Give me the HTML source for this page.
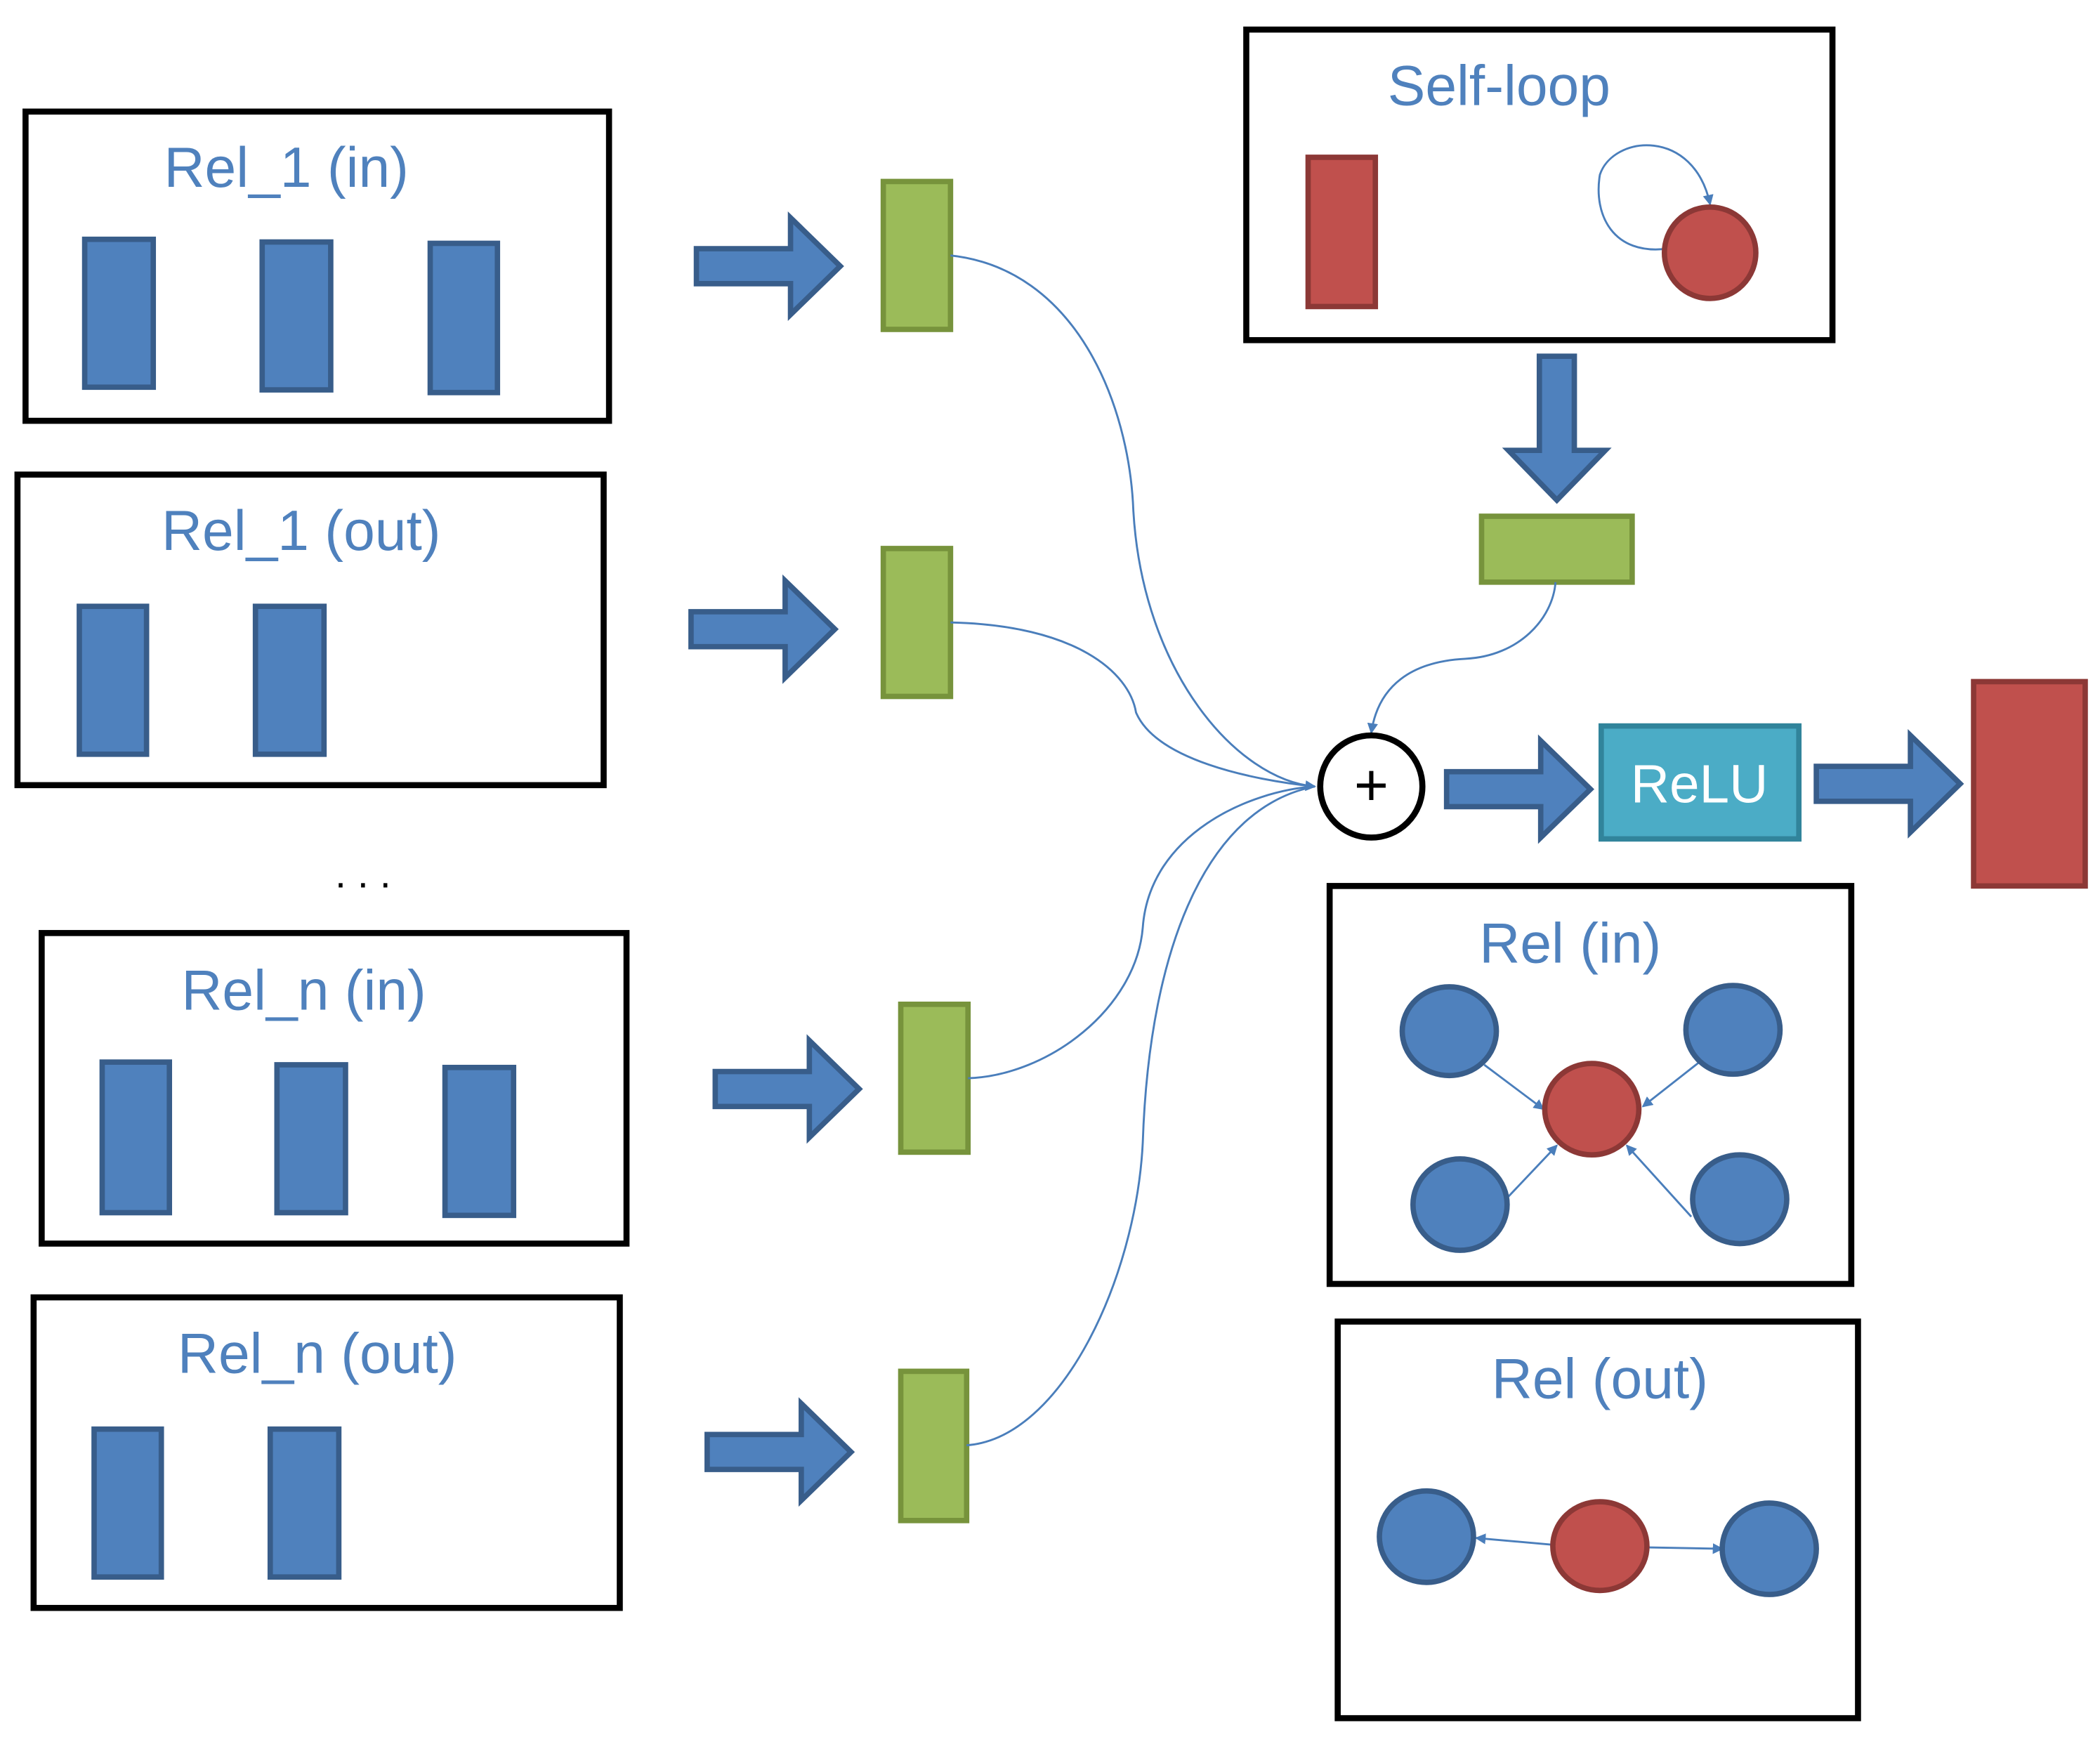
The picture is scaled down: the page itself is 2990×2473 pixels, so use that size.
<!DOCTYPE html>
<html><head><style>html,body{margin:0;padding:0;background:#fff}svg{display:block}</style></head>
<body>
<svg width="2990" height="2473" viewBox="0 0 1562 1292" preserveAspectRatio="none" xmlns="http://www.w3.org/2000/svg">
<defs>
<marker id="ah" markerWidth="8" markerHeight="8" refX="7" refY="4" orient="auto" markerUnits="userSpaceOnUse"><path d="M0,0 L8,4 L0,8 z" fill="#4a7ebb"/></marker>
<g id="rarrow"><path d="M0,-13 L70,-13 L70,-36 L107,0 L70,36 L70,13 L0,13 z" fill="#4f81bd" stroke="#385d8a" stroke-width="4"/></g>
</defs>
<g fill="none" stroke="#000" stroke-width="4.5">
<rect x="19" y="83" width="434" height="230"/>
<rect x="13" y="353" width="436" height="231"/>
<rect x="31" y="694" width="435" height="231"/>
<rect x="25" y="965" width="436" height="231"/>
<rect x="927" y="22" width="436" height="231"/>
<rect x="989" y="659" width="388" height="296"/>
<rect x="995" y="983" width="387" height="295"/>
</g>
<g font-family="Liberation Sans, sans-serif" font-size="42" fill="#4f81bd" text-anchor="middle">
<text x="213" y="139">Rel_1 (in)</text>
<text x="224" y="409">Rel_1 (out)</text>
<text x="226" y="751">Rel_n (in)</text>
<text x="236" y="1021">Rel_n (out)</text>
<text x="1115" y="78">Self-loop</text>
<text x="1168" y="716">Rel (in)</text>
<text x="1190" y="1040">Rel (out)</text>
</g>
<text x="270" y="660" font-family="Liberation Sans, sans-serif" font-size="30" fill="#000" text-anchor="middle">. . .</text>
<g fill="#4f81bd" stroke="#385d8a" stroke-width="4">
<rect x="63" y="178" width="51" height="110"/><rect x="195" y="180" width="51" height="110"/><rect x="320" y="181" width="50" height="111"/>
<rect x="59" y="451" width="50" height="110"/><rect x="190" y="451" width="51" height="110"/>
<rect x="76" y="790" width="50" height="112"/><rect x="206" y="792" width="51" height="110"/><rect x="331" y="794" width="51" height="110"/>
<rect x="70" y="1063" width="50" height="110"/><rect x="201" y="1063" width="51" height="110"/>
</g>
<g fill="#9bbb59" stroke="#77933c" stroke-width="4">
<rect x="657" y="135" width="50" height="110"/><rect x="657" y="408" width="50" height="110"/>
<rect x="670" y="747" width="50" height="110"/><rect x="670" y="1020" width="49" height="111"/>
<rect x="1102" y="384" width="112" height="49"/>
</g>
<use href="#rarrow" x="518" y="198"/>
<use href="#rarrow" x="514" y="468"/>
<use href="#rarrow" x="532" y="810"/>
<use href="#rarrow" x="526" y="1080"/>
<use href="#rarrow" x="1076" y="587"/>
<use href="#rarrow" x="1351" y="583"/>
<use href="#rarrow" transform="translate(1158,265) rotate(90)"/>
<g fill="none" stroke="#4a7ebb" stroke-width="1.5">
<path d="M707,190 C800,200 840,300 843,380 C850,500 920,580 978,585" marker-end="url(#ah)"/>
<path d="M707,463 C800,465 840,500 845,530 C860,565 930,580 978,585"/>
<path d="M720,802 C780,800 845,750 850,690 C855,620 930,588 978,585"/>
<path d="M719,1075 C790,1070 845,950 850,850 C855,700 900,600 978,585"/>
<path d="M1157,433 C1155,460 1130,488 1090,490 C1050,492 1025,510 1020,545" marker-end="url(#ah)"/>
<path d="M1240,185 C1200,190 1185,160 1190,130 C1200,100 1260,95 1272,152" marker-end="url(#ah)"/>
</g>
<rect x="973" y="117" width="50" height="111" fill="#c0504d" stroke="#8c3836" stroke-width="4"/>
<ellipse cx="1272" cy="188" rx="34" ry="34" fill="#c0504d" stroke="#8c3836" stroke-width="4"/>
<circle cx="1020" cy="585" r="38" fill="#fff" stroke="#000" stroke-width="4.5"/>
<text x="1020" y="599" font-family="Liberation Sans, sans-serif" font-size="44" text-anchor="middle" fill="#000">+</text>
<rect x="1191" y="540" width="147" height="84" fill="#4bacc6" stroke="#31849b" stroke-width="4"/>
<text x="1264" y="597" font-family="Liberation Sans, sans-serif" font-size="40" text-anchor="middle" fill="#fff">ReLU</text>
<rect x="1468" y="507" width="83" height="152" fill="#c0504d" stroke="#8c3836" stroke-width="4"/>
<g fill="none" stroke="#4a7ebb" stroke-width="1.5">
<line x1="1104" y1="792" x2="1148" y2="825" marker-end="url(#ah)"/>
<line x1="1264" y1="790" x2="1222" y2="823" marker-end="url(#ah)"/>
<line x1="1122" y1="890" x2="1158" y2="852" marker-end="url(#ah)"/>
<line x1="1258" y1="905" x2="1210" y2="852" marker-end="url(#ah)"/>
<line x1="1155" y1="1149" x2="1098" y2="1144" marker-end="url(#ah)"/>
<line x1="1226" y1="1151" x2="1281" y2="1152" marker-end="url(#ah)"/>
</g>
<g fill="#4f81bd" stroke="#385d8a" stroke-width="4">
<ellipse cx="1078" cy="767" rx="35" ry="33"/><ellipse cx="1289" cy="766" rx="35" ry="33"/>
<ellipse cx="1086" cy="896" rx="35" ry="34"/><ellipse cx="1294" cy="892" rx="35" ry="33"/>
<ellipse cx="1061" cy="1143" rx="35" ry="34"/><ellipse cx="1316" cy="1152" rx="35" ry="34"/>
</g>
<g fill="#c0504d" stroke="#8c3836" stroke-width="4">
<ellipse cx="1184" cy="825" rx="35" ry="34"/>
<ellipse cx="1190" cy="1150" rx="35" ry="33"/>
</g>
</svg>
</body></html>
